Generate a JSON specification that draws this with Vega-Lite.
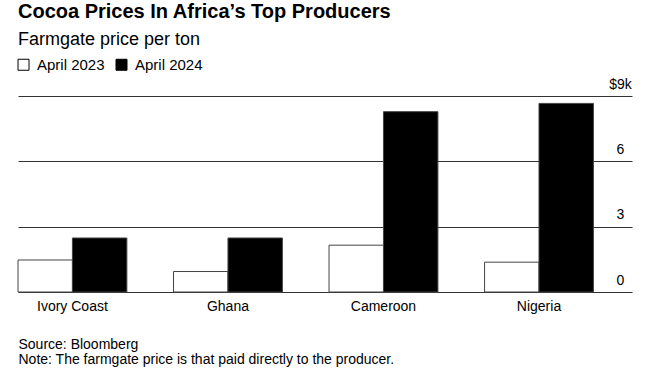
{
  "$schema": "https://vega.github.io/schema/vega-lite/v6.json",
  "width": 614,
  "height": 196,
  "autosize": {"type": "none"},
  "padding": {"left": 18, "top": 96, "right": 33, "bottom": 87},
  "background": "white",
  "config": {"font": "Liberation Sans", "view": {"stroke": null}},
  "title": {
    "text": "Cocoa Prices In Africa’s Top Producers",
    "subtitle": "Farmgate price per ton",
    "anchor": "start",
    "frame": "group",
    "font": "Liberation Sans",
    "subtitleFont": "Liberation Sans",
    "fontSize": 20,
    "fontWeight": "bold",
    "subtitleFontSize": 18,
    "color": "#000000",
    "subtitleColor": "#000000",
    "subtitlePadding": 9,
    "offset": 8
  },
  "data": {
    "values": [
      {"country": "Ivory Coast", "period": "April 2023", "price": 1.47},
      {"country": "Ivory Coast", "period": "April 2024", "price": 2.48},
      {"country": "Ghana", "period": "April 2023", "price": 0.94},
      {"country": "Ghana", "period": "April 2024", "price": 2.48},
      {"country": "Cameroon", "period": "April 2023", "price": 2.15},
      {"country": "Cameroon", "period": "April 2024", "price": 8.28},
      {"country": "Nigeria", "period": "April 2023", "price": 1.37},
      {"country": "Nigeria", "period": "April 2024", "price": 8.66}
    ]
  },
  "mark": {"type": "bar", "stroke": "#444444", "strokeWidth": 1},
  "encoding": {
    "x": {
      "field": "country",
      "type": "nominal",
      "sort": ["Ivory Coast", "Ghana", "Cameroon", "Nigeria"],
      "scale": {"paddingInner": 0.3, "paddingOuter": 0.124, "align": 0},
      "axis": {
        "orient": "bottom",
        "domain": false,
        "ticks": false,
        "labelAngle": 0,
        "labelFontSize": 14,
        "labelColor": "#000000",
        "labelPadding": 7,
        "title": ["Source: Bloomberg", "Note: The farmgate price is that paid directly to the producer."],
        "titleFontSize": 14,
        "titleFontWeight": "normal",
        "titleColor": "#000000",
        "titleAlign": "left",
        "titleBaseline": "alphabetic",
        "titleX": 0,
        "titleY": 56,
        "titleLineHeight": 15
      }
    },
    "xOffset": {
      "field": "period",
      "type": "nominal",
      "scale": {"paddingInner": 0, "paddingOuter": 0}
    },
    "y": {
      "field": "price",
      "type": "quantitative",
      "scale": {"domain": [0, 9], "nice": false},
      "axis": {
        "orient": "right",
        "title": null,
        "domain": false,
        "ticks": false,
        "grid": true,
        "gridColor": "#333333",
        "gridWidth": 1,
        "gridOpacity": 1,
        "values": [0, 3, 6, 9],
        "labelExpr": "datum.value == 9 ? '$9k' : datum.label",
        "labelAlign": "center",
        "labelBaseline": "alphabetic",
        "labelPadding": -12,
        "labelOffset": -8,
        "labelFontSize": 14,
        "labelColor": "#000000"
      }
    },
    "fill": {
      "field": "period",
      "type": "nominal",
      "scale": {"domain": ["April 2023", "April 2024"], "range": ["#ffffff", "#000000"]},
      "legend": {
        "orient": "none",
        "legendX": -2,
        "legendY": -39,
        "direction": "horizontal",
        "title": null,
        "symbolType": "square",
        "symbolSize": 121,
        "symbolStrokeColor": "#000000",
        "symbolStrokeWidth": 1,
        "symbolOpacity": 1,
        "labelFontSize": 15,
        "labelColor": "#000000",
        "labelOffset": 6,
        "columnPadding": 9
      }
    }
  }
}
